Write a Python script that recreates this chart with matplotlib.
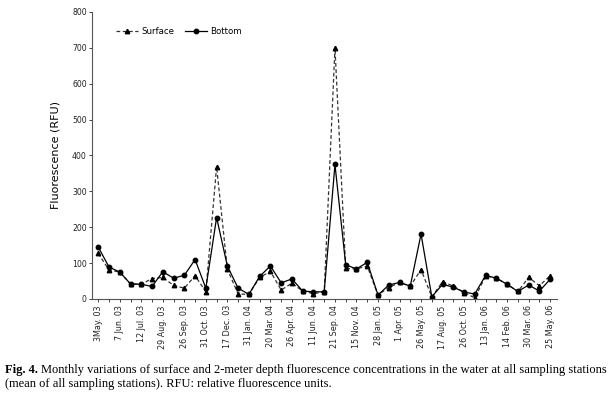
import matplotlib
matplotlib.use("Agg")
import matplotlib.pyplot as plt
import numpy as np

labels = ["3May. 03", "7 Jun. 03", "12 Jul. 03", "29 Aug. 03", "26 Sep. 03", "31 Oct. 03",
          "17 Dec. 03", "31 Jan. 04", "20 Mar. 04", "26 Apr. 04", "11 Jun. 04", "21 Sep. 04",
          "15 Nov. 04", "28 Jan. 05", "1 Apr. 05", "26 May. 05", "17 Aug. 05", "26 Oct. 05",
          "13 Jan. 06", "14 Feb. 06", "30 Mar. 06", "25 May. 06"]

surface = [127, 81, 75, 42, 41, 57, 60, 38, 30, 65, 20, 369, 83, 14, 13, 60, 77, 25, 44, 22,
           15, 20, 700, 85, 84, 92, 11, 32, 46, 36, 82, 6, 48, 36, 18, 3, 64, 58, 41, 21,
           60, 37, 65]
bottom = [145, 89, 75, 42, 41, 35, 76, 58, 66, 110, 30, 227, 92, 30, 13, 63, 92, 45, 56, 22,
          20, 20, 375, 95, 84, 102, 11, 39, 46, 36, 181, 6, 41, 33, 19, 14, 66, 58, 41, 21,
          39, 22, 55]

x = np.arange(len(surface))
tick_labels = []
for i in range(len(x)):
    tick_labels.append(labels[i // 2] if i % 2 == 0 else "")

fig = plt.figure(figsize=(6.09, 3.93), dpi=100)
ax = fig.add_axes([0.1516, 0.2392, 0.7624, 0.7303])

ax.plot(x, surface, linestyle=(0, (3, 2)), color="#333333", linewidth=0.9,
        marker="^", markersize=3.2, markerfacecolor="black", markeredgecolor="black",
        label="Surface")
ax.plot(x, bottom, linestyle="-", color="black", linewidth=0.9,
        marker="o", markersize=3.2, markerfacecolor="black", markeredgecolor="black",
        label="Bottom")

ax.set_xlim(-0.55, 42.6)
ax.set_ylim(0, 800)
ax.set_yticks(range(0, 801, 100))
ax.set_xticks(x)
ax.set_xticklabels(tick_labels, rotation=90, fontsize=5.8, family="DejaVu Sans")
ax.tick_params(axis="y", labelsize=5.6, length=2.5, width=0.6, pad=1.5, colors="#222222")
ax.tick_params(axis="x", length=2.5, width=0.6, pad=2, colors="#222222")
for s in ["top", "right"]:
    ax.spines[s].set_visible(False)
for s in ["left", "bottom"]:
    ax.spines[s].set_color("#555555")
    ax.spines[s].set_linewidth(0.8)

ax.set_ylabel("Fluorescence (RFU)", fontsize=8, labelpad=8)

leg = ax.legend(loc="upper left", bbox_to_anchor=(0.035, 0.975), ncol=2, frameon=False,
                fontsize=6.2, handlelength=2.5, columnspacing=1.3, handletextpad=0.4)

# caption
cap_fs = 9.0
t1 = fig.text(0.008, 0.052, "Fig. 4.", fontsize=cap_fs, family="Liberation Serif",
              fontweight="bold", va="baseline")
fig.canvas.draw()
r = fig.canvas.get_renderer()
bb = t1.get_window_extent(r)
x2 = (bb.x1 + 3) / fig.bbox.width
fig.text(x2, 0.052, "Monthly variations of surface and 2-meter depth fluorescence concentrations in the water at all sampling stations",
         fontsize=cap_fs, family="Liberation Serif", va="baseline")
fig.text(0.008, 0.016, "(mean of all sampling stations). RFU: relative fluorescence units.",
         fontsize=cap_fs, family="Liberation Serif", va="baseline")

fig.savefig("out.png", dpi=100)
